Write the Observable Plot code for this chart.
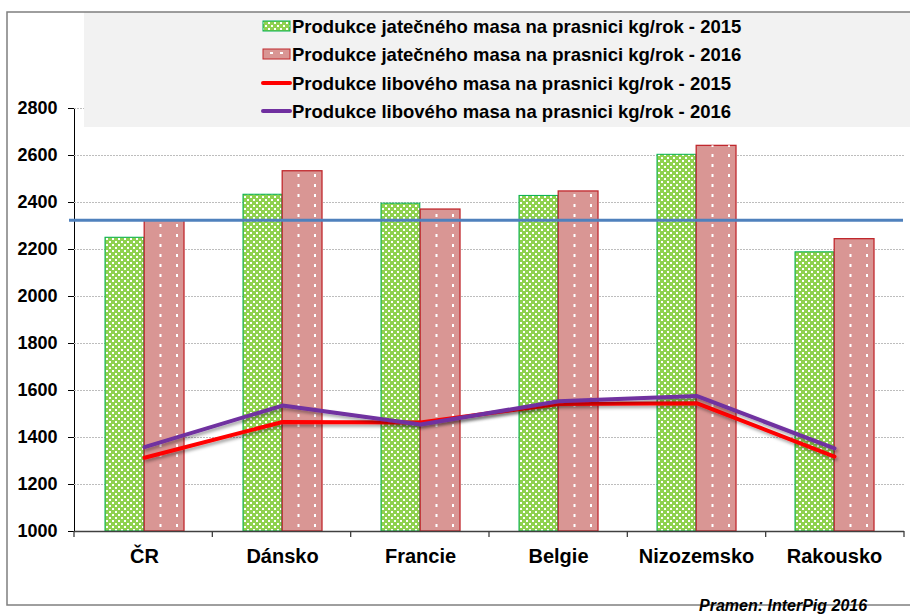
<!DOCTYPE html>
<html>
<head>
<meta charset="utf-8">
<script src="https://cdn.jsdelivr.net/npm/d3@7"></script>
<script src="https://cdn.jsdelivr.net/npm/@observablehq/plot@0.6"></script>
<style>
  html, body { margin: 0; padding: 0; background: #fff; }
  #chart { width: 910px; height: 615px; }
</style>
</head>
<body>
<div id="chart"></div>
<script>
const countries = ["ČR", "Dánsko", "Francie", "Belgie", "Nizozemsko", "Rakousko"];
const carcass2015 = [2250, 2433, 2395, 2428, 2603, 2188];
const carcass2016 = [2322, 2533, 2370, 2447, 2641, 2244];
const lean2015 = [1314, 1466, 1464, 1543, 1546, 1319];
const lean2016 = [1359, 1536, 1455, 1554, 1577, 1354];
const referenceValue = [2324];
const yTicks = [1000, 1200, 1400, 1600, 1800, 2000, 2200, 2400, 2600, 2800];
const seriesLabels = [
  "Produkce jatečného masa na prasnici kg/rok - 2015",
  "Produkce jatečného masa na prasnici kg/rok - 2016",
  "Produkce libového masa na prasnici kg/rok - 2015",
  "Produkce libového masa na prasnici kg/rok - 2016"
];
const sourceText = "Pramen: InterPig 2016";

const rows = countries.map((c, i) => ({
  country: c,
  c2015: carcass2015[i],
  c2016: carcass2016[i],
  l2015: lean2015[i],
  l2016: lean2016[i]
}));

const FONT = "'Liberation Sans', Arial, sans-serif";

const plot = Plot.plot({
  width: 910,
  height: 615,
  marginLeft: 74,
  marginRight: 6,
  marginTop: 108,
  marginBottom: 84,
  style: { fontFamily: FONT, fontWeight: "bold", fontSize: "18px", color: "#000", background: "#fff", overflow: "visible" },
  x: { type: "band", domain: countries, padding: 0, tickSize: 0, tickPadding: 17, label: null },
  y: { domain: [1000, 2800], ticks: yTicks, tickSize: 6, tickPadding: 11, line: true, label: null, tickFormat: d => String(d) },
  marks: [
    Plot.ruleY(yTicks.filter(t => t > 1000), { stroke: "#bdbdbd", strokeWidth: 1, strokeDasharray: "2,1" }),
    Plot.barY(rows, { x: "country", y1: 1000, y2: "c2015", fill: "url(#greenDots)", stroke: "#00b050", strokeWidth: 1, insetLeft: 30, insetRight: 69.2 }),
    Plot.barY(rows, { x: "country", y1: 1000, y2: "c2016", fill: "#d99694", stroke: "#c0282d", strokeWidth: 1.3, insetLeft: 69.2, insetRight: 29 }),
    Plot.ruleX(rows, { x: "country", y1: 1000, y2: "c2016", dx: 16, stroke: "#fff", strokeWidth: 2, strokeDasharray: "3,7", strokeDashoffset: -4 }),
    Plot.ruleX(rows, { x: "country", y1: 1000, y2: "c2016", dx: 32.5, stroke: "#fff", strokeWidth: 2, strokeDasharray: "3,7", strokeDashoffset: -4 }),
    Plot.ruleY(referenceValue, { stroke: "#4f81bd", strokeWidth: 3, insetLeft: -5, insetRight: 1 }),
    Plot.line(rows, { x: "country", y: "l2015", stroke: "#ff0000", strokeWidth: 4 }),
    Plot.line(rows, { x: "country", y: "l2016", stroke: "#7030a0", strokeWidth: 4 }),
    Plot.ruleY([1000], { stroke: "#404040", strokeWidth: 1.5 })
  ]
});

document.getElementById("chart").appendChild(plot);

const svg = d3.select(plot);
const defs = svg.insert("defs", ":first-child");
const pat = defs.append("pattern").attr("id", "greenDots").attr("patternUnits", "userSpaceOnUse")
  .attr("width", 6).attr("height", 6);
pat.append("rect").attr("width", 6).attr("height", 6).attr("fill", "#8fd14f");
pat.append("rect").attr("x", 1).attr("y", 1).attr("width", 2).attr("height", 2).attr("fill", "#fff").attr("shape-rendering", "crispEdges");
pat.append("rect").attr("x", 4).attr("y", 4).attr("width", 2).attr("height", 2).attr("fill", "#fff").attr("shape-rendering", "crispEdges");
const flt = defs.append("filter").attr("id", "shadow").attr("x", "-5%").attr("y", "-30%").attr("width", "110%").attr("height", "160%");
flt.append("feDropShadow").attr("dx", 1.5).attr("dy", 2.5).attr("stdDeviation", 1.5).attr("flood-color", "#000").attr("flood-opacity", 0.35);

svg.selectAll('g[aria-label="line"]').attr("filter", "url(#shadow)");

// axis label sizes
svg.selectAll('[aria-label^="x-axis"] text').style("font-size", "20px");
svg.selectAll('[aria-label^="y-axis"] text').style("font-size", "18px");

// category boundary ticks on the x axis
const xs = plot.scale("x");
const band = d3.scaleBand(xs.domain, xs.range).padding(0);
const yb = plot.scale("y");
const yScale = d3.scaleLinear(yb.domain, yb.range);
const base = yScale(1000);
const bounds = countries.map(c => band(c)).concat([band.range()[1]]);
svg.append("g").selectAll("line").data(bounds).join("line")
  .attr("x1", d => d).attr("x2", d => d).attr("y1", base).attr("y2", base + 6)
  .attr("stroke", "#404040").attr("stroke-width", 1.3);

// legend
const lg = svg.append("g").attr("text-anchor", "start");
lg.append("rect").attr("x", 84).attr("y", 12).attr("width", 830).attr("height", 115).attr("fill", "#f2f2f2");
const rowY = [26, 54, 83, 111];
const swX = 263, swW = 27;
lg.append("rect").attr("x", swX).attr("y", rowY[0] - 5).attr("width", swW).attr("height", 10)
  .attr("fill", "url(#greenDots)").attr("stroke", "#00b050").attr("stroke-width", 1);
lg.append("rect").attr("x", swX).attr("y", rowY[1] - 5).attr("width", swW).attr("height", 10)
  .attr("fill", "#d99694").attr("stroke", "#c0282d").attr("stroke-width", 1);
lg.append("line").attr("x1", swX + 1).attr("x2", swX + swW).attr("y1", rowY[1] - 1).attr("y2", rowY[1] - 1)
  .attr("stroke", "#fff").attr("stroke-width", 2).attr("stroke-dasharray", "3,7").attr("stroke-dashoffset", -6);
lg.append("line").attr("x1", swX).attr("x2", swX + swW).attr("y1", rowY[2]).attr("y2", rowY[2])
  .attr("stroke", "#ff0000").attr("stroke-width", 4).attr("stroke-linecap", "round");
lg.append("line").attr("x1", swX).attr("x2", swX + swW).attr("y1", rowY[3]).attr("y2", rowY[3])
  .attr("stroke", "#7030a0").attr("stroke-width", 4).attr("stroke-linecap", "round");
lg.selectAll("text").data(seriesLabels).join("text")
  .attr("x", 292).attr("y", (d, i) => rowY[i]).attr("dy", "0.36em").attr("text-anchor", "start")
  .attr("font-family", FONT).attr("font-weight", "bold").attr("font-size", "18.5px").attr("fill", "#000")
  .text(d => d);

// outer frame
svg.append("rect").attr("x", 7).attr("y", 12).attr("width", 920).attr("height", 593)
  .attr("fill", "none").attr("stroke", "#7f7f7f").attr("stroke-width", 1.5);

// source caption
svg.append("text").attr("x", 699).attr("y", 611).attr("text-anchor", "start")
  .attr("font-family", FONT).attr("font-weight", "bold").attr("font-style", "italic").attr("font-size", "16px")
  .attr("fill", "#000").text(sourceText);
</script>
</body>
</html>
